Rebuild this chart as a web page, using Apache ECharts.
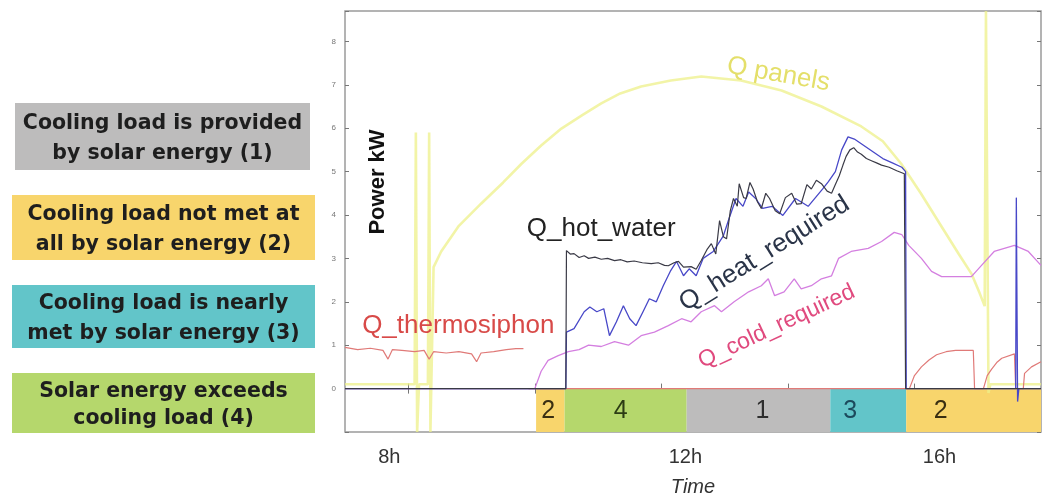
<!DOCTYPE html>
<html>
<head>
<meta charset="utf-8">
<script src="https://cdn.jsdelivr.net/npm/echarts@6/dist/echarts.min.js"></script>
<style>html,body{margin:0;padding:0;background:#fff;}#c{width:1043px;height:502px;}</style>
</head>
<body>
<div id="c"></div>
<script>
// ---------- DATA (hours, kW) ----------
var xTickHours = [8, 10, 12, 14, 16];
var xLabelHours = [8, 12, 16];
var xLabelText = ['8h', '12h', '16h'];

var panelsH = [7.0, 8.10, 8.12, 8.14, 8.17, 8.31, 8.33, 8.35, 8.40, 8.52, 8.8, 9.15, 9.5, 9.79, 10.1, 10.42, 10.75, 11.05, 11.35, 11.68, 12.15, 12.63, 13.26, 13.9, 14.53, 15.16, 15.5, 15.79, 16.1, 16.43, 16.7, 16.9, 17.03, 17.11, 17.13, 17.17, 17.2, 18.0];
var panelsV = [0.1, 0.1, 5.9, -1.0, 0.1, 0.1, 5.9, -1.0, 2.8, 3.16, 3.75, 4.26, 4.75, 5.18, 5.6, 5.99, 6.3, 6.57, 6.8, 6.96, 7.1, 7.19, 7.1, 6.87, 6.5, 6.04, 5.7, 5.18, 4.5, 3.73, 3.1, 2.65, 2.2, 1.9, 8.7, -0.1, 0.1, 0.1];

var thermoH = [7.0, 7.2, 7.4, 7.6, 7.68, 7.75, 7.9, 8.1, 8.25, 8.33, 8.4, 8.6, 8.8, 9.0, 9.08, 9.15, 9.35, 9.55, 9.7, 9.82, 9.86, 9.9, 15.92, 16.0, 16.11, 16.23, 16.35, 16.5, 16.65, 16.93, 16.95, 17.09, 17.15, 17.22, 17.3, 17.38, 17.58, 17.6, 17.72, 17.74, 17.85, 18.0];
var thermoV = [0.95, 0.9, 0.93, 0.88, 0.68, 0.9, 0.88, 0.85, 0.88, 0.68, 0.85, 0.82, 0.85, 0.8, 0.62, 0.82, 0.85, 0.9, 0.92, 0.92, null, 0, 0, 0.3, 0.5, 0.66, 0.78, 0.85, 0.88, 0.88, 0, 0, 0.3, 0.45, 0.6, 0.7, 0.8, 0, 0, 0.35, 0.5, 0.62];

var hotH = [7.0, 10.49, 10.50, 10.56, 10.62, 10.7, 10.78, 10.85, 10.95, 11.05, 11.15, 11.26, 11.36, 11.46, 11.57, 11.7, 11.84, 11.95, 12.05, 12.11, 12.2, 12.27, 12.35, 12.47, 12.55, 12.63, 12.72, 12.79, 12.86, 12.92, 12.98, 13.03, 13.09, 13.14, 13.2, 13.23, 13.3, 13.34, 13.4, 13.45, 13.52, 13.58, 13.65, 13.71, 13.8, 13.87, 13.96, 14.06, 14.14, 14.21, 14.3, 14.37, 14.45, 14.53, 14.62, 14.69, 14.75, 14.81, 14.87, 14.92, 14.98, 15.04, 15.1, 15.16, 15.24, 15.32, 15.4, 15.48, 15.6, 15.72, 15.84, 15.86, 18.0];
var hotV = [0, 0, 3.18, 3.1, 3.11, 3.02, 3.06, 3.0, 3.03, 2.98, 3.0, 2.95, 2.97, 2.92, 2.94, 2.9, 2.88, 2.9, 2.84, 2.83, 2.9, 2.93, 2.8, 2.81, 2.75, 2.95, 3.2, 3.34, 3.1, 3.87, 3.5, 3.45, 4.1, 4.38, 4.2, 4.72, 4.4, 4.38, 4.75, 4.6, 4.3, 4.15, 4.5, 4.38, 4.1, 4.03, 4.4, 4.5, 4.25, 4.26, 4.7, 4.6, 4.8, 4.72, 4.55, 4.5, 4.7, 4.9, 5.15, 5.35, 5.5, 5.55, 5.45, 5.4, 5.3, 5.25, 5.2, 5.15, 5.1, 5.02, 4.95, 0, 0];

var heatH = [7.0, 10.49, 10.50, 10.62, 10.78, 10.87, 10.98, 11.09, 11.18, 11.29, 11.4, 11.5, 11.6, 11.71, 11.81, 11.92, 12.03, 12.14, 12.24, 12.35, 12.44, 12.55, 12.66, 12.82, 12.98, 13.07, 13.18, 13.29, 13.38, 13.49, 13.6, 13.75, 13.92, 14.12, 14.32, 14.55, 14.64, 14.75, 14.85, 14.95, 15.05, 15.2, 15.35, 15.5, 15.65, 15.8, 15.86, 15.87, 17.6, 17.61, 17.63, 17.65, 18.0];
var heatV = [0, 0, 1.3, 1.38, 1.77, 1.88, 1.77, 1.84, 1.22, 1.54, 1.91, 1.61, 1.45, 1.77, 2.07, 2.0, 2.37, 2.7, 2.93, 2.6, 2.76, 2.6, 3.0, 3.16, 3.52, 3.92, 4.38, 4.2, 4.53, 4.38, 4.15, 4.2, 3.99, 4.38, 4.2, 4.6, 4.77, 5.0, 5.5, 5.8, 5.75, 5.6, 5.45, 5.3, 5.2, 5.1, 5.0, 0, 0, 4.4, -0.3, 0, 0];

var coldH = [7.0, 10.0, 10.1, 10.21, 10.37, 10.53, 10.7, 10.85, 11.05, 11.26, 11.48, 11.68, 11.89, 12.11, 12.32, 12.47, 12.63, 12.84, 12.95, 13.15, 13.38, 13.58, 13.69, 13.79, 13.94, 14.1, 14.21, 14.37, 14.53, 14.69, 14.8, 15.0, 15.27, 15.48, 15.68, 15.8, 15.91, 16.11, 16.27, 16.43, 16.9, 17.06, 17.26, 17.58, 17.8, 18.0];
var coldV = [0, 0, 0.4, 0.65, 0.76, 0.85, 0.9, 1.0, 0.97, 1.08, 1.0, 1.22, 1.3, 1.45, 1.61, 1.54, 1.77, 1.91, 1.77, 2.0, 2.23, 2.37, 2.53, 2.14, 2.23, 2.53, 2.3, 2.37, 2.53, 2.6, 3.0, 3.16, 3.23, 3.39, 3.6, 3.55, 3.3, 3.0, 2.7, 2.58, 2.58, 2.84, 3.16, 3.3, 3.16, 2.84];

// operating-mode bands (hours)
var bandStart = [10.02, 10.47, 12.40, 14.67, 15.87];
var bandEnd   = [10.47, 12.40, 14.67, 15.87, 18.0];
var bandCode  = ['2', '4', '1', '3', '2'];

var legendText = [
  'Cooling load is provided\nby solar energy (1)',
  'Cooling load not met at\nall by solar energy (2)',
  'Cooling load is nearly\nmet by solar energy (3)',
  'Solar energy exceeds\ncooling load (4)'
];
var legendCode = ['1', '2', '3', '4'];

// ---------- STYLE ----------
var modeColor = {'1': '#bdbcbc', '2': '#f8d56c', '3': '#62c5c9', '4': '#b5d76c'};
var modeText  = {'1': '#2e2e2e', '2': '#3a2f12', '3': '#1c4a5c', '4': '#2c3c14'};
var bandLabelShift = [-2, -5, 4, -18, -33];

function zip(h, v) { return h.map(function (x, i) { return [x, v[i]]; }); }

var chart = echarts.init(document.getElementById('c'), null, {renderer: 'canvas'});

var markAreaData = bandStart.map(function (s, i) {
  var c = bandCode[i];
  return [
    {xAxis: s, yAxis: -1, itemStyle: {color: modeColor[c], opacity: 1},
      label: {show: true, formatter: c, color: modeText[c], offset: [bandLabelShift[i], 1]}},
    {xAxis: bandEnd[i], yAxis: 0}
  ];
});

var FONT = 'Liberation Sans, Arial, sans-serif';

var option = {
  animation: false,
  backgroundColor: '#ffffff',
  grid: {left: 345, top: 11, width: 696, height: 421, show: true, borderColor: '#9a9a9a', borderWidth: 1.5, backgroundColor: 'transparent'},
  xAxis: [{
    type: 'value', min: 7, max: 18, position: 'bottom',
    axisLine: {show: false},
    splitLine: {show: false},
    axisTick: {show: true, inside: true, length: 5, customValues: xTickHours, lineStyle: {color: '#777'}},
    axisLabel: {
      show: true, customValues: xLabelHours, margin: 15,
      fontFamily: FONT, fontSize: 20, color: '#333',
      formatter: function (v) {
        var i = xLabelHours.indexOf(v);
        var key = ['a', 'b', 'c'][i];
        return '{' + key + '|' + xLabelText[i] + '}';
      },
      rich: {
        a: {fontFamily: FONT, fontSize: 20, color: '#333', padding: [0, 38, 0, 0]},
        b: {fontFamily: FONT, fontSize: 20, color: '#333', padding: [0, 0, 0, 48]},
        c: {fontFamily: FONT, fontSize: 20, color: '#333', padding: [0, 0, 0, 50]}
      }
    },
    name: 'Time', nameLocation: 'middle', nameGap: 45,
    nameTextStyle: {fontFamily: FONT, fontSize: 20, fontStyle: 'italic', color: '#333'}
  }, {
    type: 'value', min: 7, max: 18, position: 'top',
    axisLine: {show: false}, splitLine: {show: false}, axisLabel: {show: false},
    axisTick: {show: true, inside: true, length: 5, customValues: xTickHours, lineStyle: {color: '#777'}}
  }],
  yAxis: [{
    type: 'value', min: -1, max: 8.7, interval: 1, position: 'left',
    axisLine: {show: false}, splitLine: {show: false},
    axisTick: {show: true, inside: true, length: 4, lineStyle: {color: '#777'}},
    axisLabel: {
      margin: 9, fontSize: 8, color: '#777', fontFamily: FONT,
      formatter: function (v) { return (v >= 0 && Math.abs(v - Math.round(v)) < 1e-6) ? String(Math.round(v)) : ''; }
    }
  }, {
    type: 'value', min: -1, max: 8.7, interval: 1, position: 'right',
    axisLine: {show: false}, splitLine: {show: false}, axisLabel: {show: false},
    axisTick: {show: true, inside: true, length: 4, lineStyle: {color: '#777'}}
  }],
  series: [
    {
      name: 'bands', type: 'line', data: [], silent: true, z: 1,
      markArea: {silent: true, label: {position: 'inside', fontFamily: FONT, fontSize: 25}, data: markAreaData}
    },
    {name: 'Q_panels', type: 'line', data: zip(panelsH, panelsV), showSymbol: false, z: 2,
      lineStyle: {color: '#eef08a', width: 2.6, opacity: 0.75}},
    {name: 'Q_thermosiphon', type: 'line', data: zip(thermoH, thermoV), showSymbol: false, connectNulls: false, z: 3,
      lineStyle: {color: '#e07a78', width: 1.2}},
    {name: 'Q_cold_required', type: 'line', data: zip(coldH, coldV), showSymbol: false, z: 4,
      lineStyle: {color: '#d47fe0', width: 1.3}},
    {name: 'Q_heat_required', type: 'line', data: zip(heatH, heatV), showSymbol: false, z: 5,
      lineStyle: {color: '#4848c8', width: 1.3}},
    {name: 'Q_hot_water', type: 'line', data: zip(hotH, hotV), showSymbol: false, z: 6,
      lineStyle: {color: '#3a3a46', width: 1.2}}
  ]
};
chart.setOption(option);

// ---------- annotations placed in data coordinates ----------
var annText = ['Q panels', 'Q_hot_water', 'Q_thermosiphon', 'Q_heat_required', 'Q_cold_required'];
var annH = [13.85, 11.05, 8.79, 13.63, 13.82];
var annV = [7.24, 3.69, 1.45, 3.11, 1.43];
var annRot = [-10, 0, 0, 32, 25];
var annSize = [26, 26, 26, 26, 23];
var annColor = ['#e4df6a', '#222222', '#d84a48', '#2a3448', '#e04a7e'];

var graphics = annText.map(function (t, i) {
  var p = chart.convertToPixel({gridIndex: 0}, [annH[i], annV[i]]);
  return {
    type: 'text', x: p[0], y: p[1], rotation: annRot[i] * Math.PI / 180, z: 50,
    style: {text: t, fill: annColor[i], font: annSize[i] + 'px ' + FONT, textAlign: 'center', textVerticalAlign: 'middle'}
  };
});

graphics.push({
  type: 'text', x: 378, y: 182, rotation: Math.PI / 2, z: 50,
  style: {text: 'Power kW', fill: '#111', font: 'bold 22px ' + FONT, textAlign: 'center', textVerticalAlign: 'middle'}
});

// legend boxes for the operating modes
var LFONT = 'DejaVu Sans, Verdana, sans-serif';
var boxY = [103, 195, 285, 373];
var boxH = [67, 65, 63, 60];
var boxLine = [30, 30, 30, 27];
legendText.forEach(function (t, i) {
  var c = legendCode[i];
  var w = i === 0 ? 295 : 303;
  graphics.push({
    type: 'group', x: i === 0 ? 15 : 12, y: boxY[i],
    children: [
      {type: 'rect', shape: {x: 0, y: 0, width: w, height: boxH[i]}, style: {fill: modeColor[c]}},
      {type: 'text', x: w / 2, y: boxH[i] / 2 + 2,
        style: {text: t, fill: '#1e1e1e', font: 'bold 20.5px ' + LFONT, lineHeight: boxLine[i], textAlign: 'center', textVerticalAlign: 'middle'}}
    ]
  });
});

chart.setOption({graphic: graphics});
</script>
</body>
</html>
